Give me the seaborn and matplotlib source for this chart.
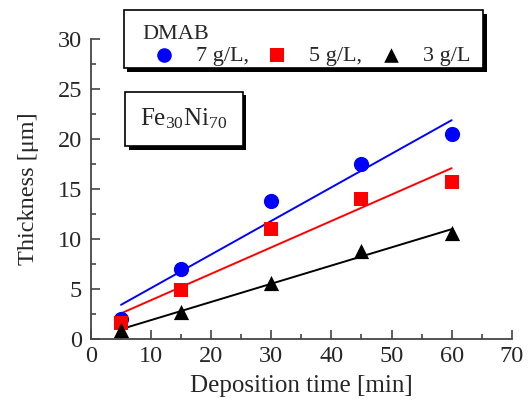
import numpy as np
import pandas as pd
import seaborn as sns
import matplotlib.pyplot as plt
import matplotlib.patheffects as pe
from matplotlib.patches import Rectangle
from matplotlib.ticker import MultipleLocator

# data
time_min = [5, 15, 30, 45, 60]
thick_7 = [2.0, 7.0, 13.8, 17.5, 20.5]
thick_5 = [1.6, 4.9, 11.0, 14.0, 15.7]
thick_3 = [0.9, 2.7, 5.6, 8.8, 10.6]
labels = ["7 g/L,", "5 g/L,", "3 g/L"]
colors = ["#0000ff", "#ff0000", "#000000"]
markers = ["o", "s", "^"]

sns.set_style("ticks")
plt.rcParams["font.family"] = ["Liberation Serif", "DejaVu Serif"]
plt.rcParams["mathtext.fontset"] = "custom"
plt.rcParams["mathtext.rm"] = "Liberation Serif"
plt.rcParams["mathtext.it"] = "Liberation Serif:italic"

fig = plt.figure(figsize=(5.32, 4.13), dpi=100)
ax = fig.add_axes([0.171, 0.179, 0.791, 0.726])

handles = []
for ys, lab, c, m in zip([thick_7, thick_5, thick_3], labels, colors, markers):
    df = pd.DataFrame({"t": time_min, "h": ys})
    sns.regplot(data=df, x="t", y="h", ci=None, ax=ax, marker=m, color=c,
                scatter_kws={"s": 120 if m != "s" else 105, "linewidths": 0, "alpha": 1, "zorder": 3},
                line_kws={"lw": 1.4, "zorder": 2})
    h = ax.scatter([], [], marker=m, color=c, s=110 if m != "s" else 100, linewidths=0)
    handles.append(h)

ax.set_xlim(0, 70)
ax.set_ylim(0, 30)
ax.xaxis.set_major_locator(MultipleLocator(10))
ax.xaxis.set_minor_locator(MultipleLocator(5))
ax.yaxis.set_major_locator(MultipleLocator(5))
ax.yaxis.set_minor_locator(MultipleLocator(2.5))
ax.tick_params(which="both", direction="in", labelsize=17.5, color="#444444", width=1.2)
ax.tick_params(which="major", length=6.5)
ax.tick_params(axis="x", which="major", pad=5)
ax.tick_params(axis="y", which="major", pad=6.5)
ax.tick_params(which="minor", length=3.5)
sns.despine(ax=ax)
for s in ["left", "bottom"]:
    ax.spines[s].set_linewidth(1.3)
    ax.spines[s].set_color("#444444")

ax.set_xlabel("Deposition time [min]", fontsize=18, labelpad=6)
ax.set_ylabel("Thickness [\u03bcm]", fontsize=17.5, labelpad=13)

# legend frame drawn separately so the padding can differ per side
frame = Rectangle((0.233, 0.835), 0.675, 0.140, transform=fig.transFigure,
                  fc="white", ec="black", lw=1.2, zorder=5)
frame.set_path_effects([pe.SimplePatchShadow(offset=(2.5, -2.5), shadow_rgbFace="black", alpha=1),
                        pe.Normal()])
fig.add_artist(frame)

leg = fig.legend(handles, labels, title="DMAB", ncol=3, loc="upper left",
                 bbox_to_anchor=(0.267, 0.939), borderaxespad=0, fontsize=16, title_fontsize=16,
                 alignment="left", frameon=False, columnspacing=0.27,
                 handletextpad=0.44, borderpad=0, handlelength=2.0)
leg._legend_box.sep = 1
leg.set_zorder(6)

txt = fig.text(0.346, 0.712, "Fe$_{30}$Ni$_{70}$", fontsize=18, ha="center", va="center",
               bbox=dict(boxstyle="square,pad=0.6", fc="white", ec="black", lw=1.2))
txt.get_bbox_patch().set_path_effects([
    pe.SimplePatchShadow(offset=(2.5, -2.5), shadow_rgbFace="black", alpha=1), pe.Normal()])

fig.savefig("out.png", dpi=100)
